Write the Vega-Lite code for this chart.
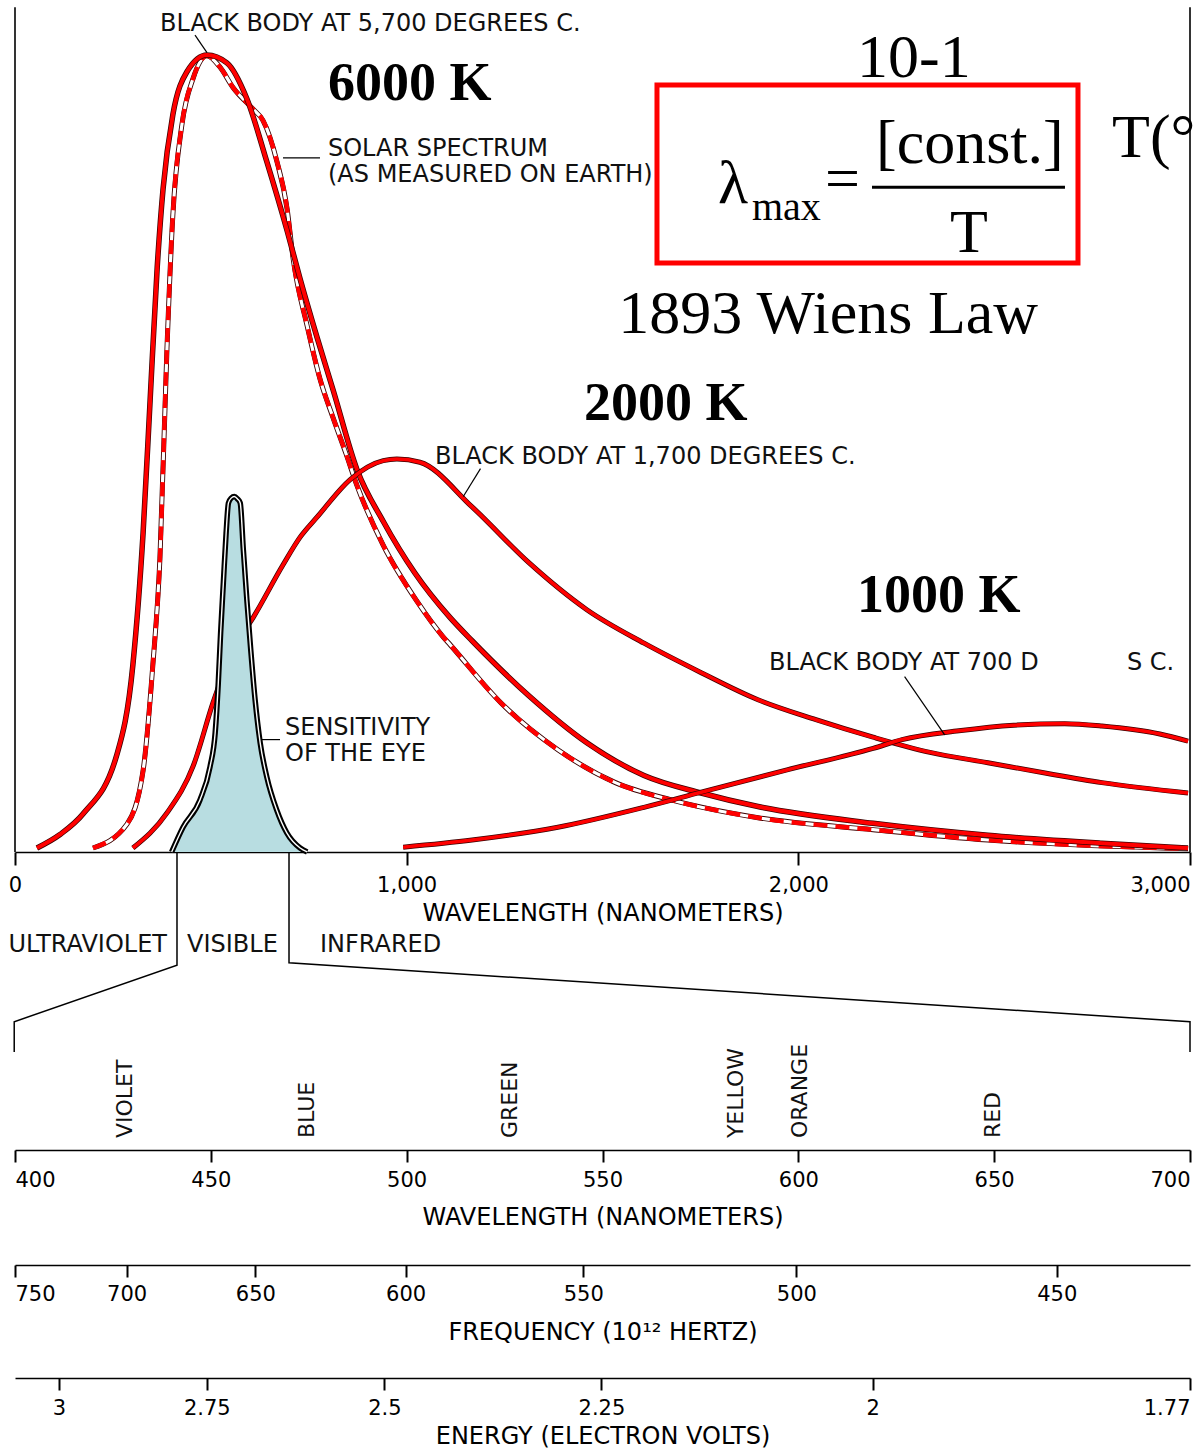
{
"$schema":"https://vega.github.io/schema/vega-lite/v6.json",
"width":1175,"height":1449,
"autosize":{"type":"none"},
"padding":{"left":15,"right":7,"top":0,"bottom":0},
"background":"#ffffff",
"config":{"view":{"stroke":null},
"axis":{"domainColor":"#000","domainWidth":1.6,"tickColor":"#000","tickWidth":2,"tickSize":13,"labelFont":"DejaVu Sans","labelFontSize":21,"labelColor":"#000","labelPadding":8,"titleFont":"DejaVu Sans","titleFontSize":24,"titleFontWeight":"normal","titleColor":"#000","titlePadding":4,"grid":false,"labelFlush":true,"labelOverlap":false}},
"datasets":{
"bb6000":[{"nm":56,"I":0.5},{"nm":115,"I":2.2},{"nm":174,"I":4.8},{"nm":260,"I":12.2},{"nm":301,"I":23.5},{"nm":327,"I":40},{"nm":345,"I":56.7},{"nm":363,"I":73.3},{"nm":378,"I":83.2},{"nm":403,"I":92.5},{"nm":439,"I":97.9},{"nm":490,"I":100},{"nm":541,"I":99},{"nm":592,"I":94.5},{"nm":643,"I":86.6},{"nm":695,"I":77.9},{"nm":728,"I":71.9},{"nm":771,"I":64.6},{"nm":812,"I":58},{"nm":873,"I":48},{"nm":940,"I":41.5},{"nm":1021,"I":35},{"nm":1111,"I":29.4},{"nm":1167,"I":26.5},{"nm":1312,"I":19.6},{"nm":1460,"I":13.7},{"nm":1606,"I":9.6},{"nm":1752,"I":7.4},{"nm":1897,"I":5.7},{"nm":2191,"I":3.6},{"nm":2484,"I":2.1},{"nm":2775,"I":1.1},{"nm":2995,"I":0.5}],
"solar":[{"nm":199,"I":0.5},{"nm":286,"I":3.5},{"nm":327,"I":10.2},{"nm":352,"I":23.5},{"nm":370,"I":36.8},{"nm":388,"I":63.2},{"nm":403,"I":79.9},{"nm":426,"I":91.2},{"nm":455,"I":97.1},{"nm":490,"I":99.9},{"nm":523,"I":98.5},{"nm":557,"I":95.9},{"nm":608,"I":93.2},{"nm":633,"I":91.8},{"nm":669,"I":86.6},{"nm":695,"I":80.6},{"nm":710,"I":74.5},{"nm":746,"I":66},{"nm":779,"I":59.3},{"nm":812,"I":54.5},{"nm":845,"I":50},{"nm":873,"I":46},{"nm":940,"I":38.5},{"nm":1027,"I":31.4},{"nm":1093,"I":27},{"nm":1111,"I":26},{"nm":1241,"I":18.7},{"nm":1387,"I":12.8},{"nm":1533,"I":8.7},{"nm":1678,"I":6.5},{"nm":1897,"I":4.3},{"nm":2191,"I":2.8},{"nm":2484,"I":1.5},{"nm":2995,"I":0.4}],
"bb2000":[{"nm":301,"I":0.5},{"nm":388,"I":4.9},{"nm":455,"I":10.8},{"nm":506,"I":18.8},{"nm":557,"I":25.5},{"nm":608,"I":29.4},{"nm":684,"I":36},{"nm":728,"I":39.5},{"nm":771,"I":42},{"nm":855,"I":46.7},{"nm":940,"I":49.1},{"nm":975,"I":49.3},{"nm":1034,"I":48.9},{"nm":1167,"I":43.3},{"nm":1312,"I":36.3},{"nm":1460,"I":30.4},{"nm":1606,"I":26.2},{"nm":1752,"I":22.5},{"nm":1897,"I":19.1},{"nm":2045,"I":16.6},{"nm":2191,"I":14.4},{"nm":2336,"I":12.5},{"nm":2484,"I":11.2},{"nm":2630,"I":9.9},{"nm":2775,"I":8.7},{"nm":2995,"I":7.4}],
"bb1000":[{"nm":991,"I":0.6},{"nm":1167,"I":1.5},{"nm":1386,"I":3.1},{"nm":1606,"I":5.6},{"nm":1752,"I":7.5},{"nm":1971,"I":10.3},{"nm":2191,"I":13},{"nm":2265,"I":14.1},{"nm":2410,"I":15.2},{"nm":2550,"I":15.9},{"nm":2680,"I":16.1},{"nm":2775,"I":15.8},{"nm":2923,"I":14.8},{"nm":2995,"I":13.9}],
"eye":[{"nm":400,"I":0},{"nm":429,"I":3.1},{"nm":472,"I":6.5},{"nm":498,"I":10.7},{"nm":511,"I":14.9},{"nm":519,"I":21.2},{"nm":525,"I":27.5},{"nm":532,"I":33.8},{"nm":539,"I":40},{"nm":545,"I":43.8},{"nm":552,"I":44.4},{"nm":560,"I":44.6},{"nm":568,"I":44.3},{"nm":575,"I":43.8},{"nm":583,"I":37.9},{"nm":592,"I":31.6},{"nm":602,"I":25.3},{"nm":613,"I":19.1},{"nm":626,"I":13.7},{"nm":643,"I":9.4},{"nm":668,"I":5.3},{"nm":694,"I":2.4},{"nm":728,"I":0.5},{"nm":746,"I":0}]
},
"resolve":{"scale":{"x":"independent"},"axis":{"x":"independent"}},
"layer":[
{"layer":[
 {"data":{"values":[{"nm":0},{"nm":3000}]},"mark":{"type":"rule","stroke":"#000","strokeWidth":1.6},
  "encoding":{"x":{"field":"nm","type":"quantitative","scale":{"domain":[0,3000],"nice":false,"zero":false},
   "axis":{"orient":"bottom","offset":-597,"values":[0,1000,2000,3000],"format":",d","title":"WAVELENGTH (NANOMETERS)","labelPadding":9,"labelFlush":false,"labelAlign":{"condition":{"test":"datum.value === 3000","value":"right"},"value":"center"},"titlePadding":6}},
   "y":{"datum":0,"type":"quantitative","scale":{"domain":[-74.91,106.9],"nice":false,"zero":false},"axis":null},"y2":{"datum":106}}},
 {"data":{"values":[{"side":"L","step":1,"nm":413.6,"I":0},{"side":"L","step":2,"nm":413.6,"I":-14.2},{"side":"L","step":3,"nm":-2,"I":-21.3},{"side":"L","step":4,"nm":-2,"I":-25.1},{"side":"R","step":1,"nm":699.6,"I":0},{"side":"R","step":2,"nm":699.6,"I":-13.9},{"side":"R","step":3,"nm":3000,"I":-21.3},{"side":"R","step":4,"nm":3000,"I":-25.1}]},
  "mark":{"type":"line","stroke":"#000","strokeWidth":1.5},
  "encoding":{"x":{"field":"nm","type":"quantitative","scale":{"domain":[0,3000],"nice":false,"zero":false}},"y":{"field":"I","type":"quantitative","scale":{"domain":[-74.91,106.9],"nice":false,"zero":false},"axis":null},"detail":{"field":"side"},"order":{"field":"step"}}},
 {"data":{"name":"solar"},"mark":{"type":"line","stroke":"#3a0000","strokeWidth":5,"interpolate":"monotone"},
  "encoding":{"x":{"field":"nm","type":"quantitative","scale":{"domain":[0,3000],"nice":false,"zero":false}},"y":{"field":"I","type":"quantitative","scale":{"domain":[-74.91,106.9],"nice":false,"zero":false},"axis":null}}},
 {"data":{"name":"solar"},"mark":{"type":"line","stroke":"#ffffff","strokeWidth":3.2,"interpolate":"monotone"},
  "encoding":{"x":{"field":"nm","type":"quantitative","scale":{"domain":[0,3000],"nice":false,"zero":false}},"y":{"field":"I","type":"quantitative","scale":{"domain":[-74.91,106.9],"nice":false,"zero":false},"axis":null}}},
 {"data":{"name":"solar"},"mark":{"type":"line","stroke":"#ff0000","strokeWidth":4.4,"strokeDash":[14,8],"interpolate":"monotone"},
  "encoding":{"x":{"field":"nm","type":"quantitative","scale":{"domain":[0,3000],"nice":false,"zero":false}},"y":{"field":"I","type":"quantitative","scale":{"domain":[-74.91,106.9],"nice":false,"zero":false},"axis":null}}},
 {"data":{"name":"bb6000"},"mark":{"type":"line","stroke":"#3a0000","strokeWidth":5.5,"interpolate":"monotone"},
  "encoding":{"x":{"field":"nm","type":"quantitative","scale":{"domain":[0,3000],"nice":false,"zero":false}},"y":{"field":"I","type":"quantitative","scale":{"domain":[-74.91,106.9],"nice":false,"zero":false},"axis":null}}},
 {"data":{"name":"bb6000"},"mark":{"type":"line","stroke":"#ff0000","strokeWidth":4,"interpolate":"monotone"},
  "encoding":{"x":{"field":"nm","type":"quantitative","scale":{"domain":[0,3000],"nice":false,"zero":false}},"y":{"field":"I","type":"quantitative","scale":{"domain":[-74.91,106.9],"nice":false,"zero":false},"axis":null}}},
 {"data":{"name":"bb2000"},"mark":{"type":"line","stroke":"#3a0000","strokeWidth":5,"interpolate":"monotone"},
  "encoding":{"x":{"field":"nm","type":"quantitative","scale":{"domain":[0,3000],"nice":false,"zero":false}},"y":{"field":"I","type":"quantitative","scale":{"domain":[-74.91,106.9],"nice":false,"zero":false},"axis":null}}},
 {"data":{"name":"bb2000"},"mark":{"type":"line","stroke":"#ff0000","strokeWidth":3.6,"interpolate":"monotone"},
  "encoding":{"x":{"field":"nm","type":"quantitative","scale":{"domain":[0,3000],"nice":false,"zero":false}},"y":{"field":"I","type":"quantitative","scale":{"domain":[-74.91,106.9],"nice":false,"zero":false},"axis":null}}},
 {"data":{"name":"bb1000"},"mark":{"type":"line","stroke":"#3a0000","strokeWidth":5,"interpolate":"monotone"},
  "encoding":{"x":{"field":"nm","type":"quantitative","scale":{"domain":[0,3000],"nice":false,"zero":false}},"y":{"field":"I","type":"quantitative","scale":{"domain":[-74.91,106.9],"nice":false,"zero":false},"axis":null}}},
 {"data":{"name":"bb1000"},"mark":{"type":"line","stroke":"#ff0000","strokeWidth":3.6,"interpolate":"monotone"},
  "encoding":{"x":{"field":"nm","type":"quantitative","scale":{"domain":[0,3000],"nice":false,"zero":false}},"y":{"field":"I","type":"quantitative","scale":{"domain":[-74.91,106.9],"nice":false,"zero":false},"axis":null}}},
 {"data":{"name":"eye"},"mark":{"type":"area","fill":"#b8dde1","interpolate":"monotone"},
  "encoding":{"x":{"field":"nm","type":"quantitative","scale":{"domain":[0,3000],"nice":false,"zero":false}},"y":{"field":"I","type":"quantitative","scale":{"domain":[-74.91,106.9],"nice":false,"zero":false},"axis":null},"y2":{"datum":0}}},
 {"data":{"name":"eye"},"mark":{"type":"line","stroke":"#000","strokeWidth":5.5,"interpolate":"monotone"},
  "encoding":{"x":{"field":"nm","type":"quantitative","scale":{"domain":[0,3000],"nice":false,"zero":false}},"y":{"field":"I","type":"quantitative","scale":{"domain":[-74.91,106.9],"nice":false,"zero":false},"axis":null}}},
 {"data":{"name":"eye"},"mark":{"type":"line","stroke":"#ffffff","strokeWidth":1.4,"interpolate":"monotone"},
  "encoding":{"x":{"field":"nm","type":"quantitative","scale":{"domain":[0,3000],"nice":false,"zero":false}},"y":{"field":"I","type":"quantitative","scale":{"domain":[-74.91,106.9],"nice":false,"zero":false},"axis":null}}},
 {"data":{"values":[{"nm":459.6,"I":102.5,"nm2":490.2,"I2":100.3},{"nm":684.3,"I":87.1,"nm2":778.7,"I2":87.1},{"nm":1188.5,"I":48.1,"nm2":1144.6,"I2":44.6},{"nm":2271.3,"I":22.0,"nm2":2373.7,"I2":14.7},{"nm":629.9,"I":14.1,"nm2":676.6,"I2":14.1}]},
  "mark":{"type":"rule","stroke":"#000","strokeWidth":1.2},
  "encoding":{"x":{"field":"nm","type":"quantitative","scale":{"domain":[0,3000],"nice":false,"zero":false}},"x2":{"field":"nm2"},"y":{"field":"I","type":"quantitative","scale":{"domain":[-74.91,106.9],"nice":false,"zero":false},"axis":null},"y2":{"field":"I2"}}},
 {"data":{"values":[{"nm":1639.1,"nm2":2714,"I":73.9,"I2":96.24}]},
  "mark":{"type":"rect","fill":"#ffffff","fillOpacity":0,"stroke":"#ff0000","strokeWidth":5},
  "encoding":{"x":{"field":"nm","type":"quantitative","scale":{"domain":[0,3000],"nice":false,"zero":false}},"x2":{"field":"nm2"},"y":{"field":"I","type":"quantitative","scale":{"domain":[-74.91,106.9],"nice":false,"zero":false},"axis":null},"y2":{"field":"I2"}}},
 {"data":{"values":[{"nm":2188.1,"nm2":2680.8,"I":83.4}]},
  "mark":{"type":"rule","stroke":"#000","strokeWidth":3},
  "encoding":{"x":{"field":"nm","type":"quantitative","scale":{"domain":[0,3000],"nice":false,"zero":false}},"x2":{"field":"nm2"},"y":{"field":"I","type":"quantitative","scale":{"domain":[-74.91,106.9],"nice":false,"zero":false},"axis":null}}},
 {"data":{"values":[{"t":"BLACK BODY AT 5,700 DEGREES C.","nm":370.2,"I":103.0},{"t":"SOLAR SPECTRUM","nm":799.1,"I":87.3},{"t":"(AS MEASURED ON EARTH)","nm":799.1,"I":84.1},{"t":"BLACK BODY AT 1,700 DEGREES C.","nm":1072.3,"I":48.7},{"t":"BLACK BODY AT 700 D","nm":1925.1,"I":22.8},{"t":"S C.","nm":2839.1,"I":22.8},{"t":"SENSITIVITY","nm":689.4,"I":14.7},{"t":"OF THE EYE","nm":689.4,"I":11.4},{"t":"VISIBLE","nm":439.1,"I":-12.55},{"t":"INFRARED","nm":778.7,"I":-12.55}]},
  "mark":{"type":"text","font":"DejaVu Sans","fontSize":24,"align":"left","baseline":"alphabetic","color":"#111"},
  "encoding":{"x":{"field":"nm","type":"quantitative","scale":{"domain":[0,3000],"nice":false,"zero":false}},"y":{"field":"I","type":"quantitative","scale":{"domain":[-74.91,106.9],"nice":false,"zero":false},"axis":null},"text":{"field":"t"}}},
 {"data":{"values":[{"t":"ULTRAVIOLET","nm":388.1,"I":-12.55}]},
  "mark":{"type":"text","font":"DejaVu Sans","fontSize":24,"align":"right","baseline":"alphabetic","color":"#111"},
  "encoding":{"x":{"field":"nm","type":"quantitative","scale":{"domain":[0,3000],"nice":false,"zero":false}},"y":{"field":"I","type":"quantitative","scale":{"domain":[-74.91,106.9],"nice":false,"zero":false},"axis":null},"text":{"field":"t"}}},
 {"data":{"values":[{"t":"6000 K","nm":799.1,"I":94.35},{"t":"2000 K","nm":1452.8,"I":54.2},{"t":"1000 K","nm":2149.8,"I":30.1}]},
  "mark":{"type":"text","font":"Liberation Serif","fontSize":54,"fontWeight":"bold","align":"left","baseline":"alphabetic","color":"#000"},
  "encoding":{"x":{"field":"nm","type":"quantitative","scale":{"domain":[0,3000],"nice":false,"zero":false}},"y":{"field":"I","type":"quantitative","scale":{"domain":[-74.91,106.9],"nice":false,"zero":false},"axis":null},"text":{"field":"t"}}},
 {"data":{"values":[{"t":"10-1","nm":2150,"I":97.2},{"t":"[const.]","nm":2198.3,"I":86.4},{"t":"T(°","nm":2800.9,"I":87.2},{"t":"1893 Wiens Law","nm":1540,"I":65.1},{"t":"λ","nm":1794.9,"I":81.4},{"t":"=","nm":2068.1,"I":81.9},{"t":"T","nm":2387.2,"I":75.3}]},
  "mark":{"type":"text","font":"Liberation Serif","fontSize":62,"align":"left","baseline":"alphabetic","color":"#000"},
  "encoding":{"x":{"field":"nm","type":"quantitative","scale":{"domain":[0,3000],"nice":false,"zero":false}},"y":{"field":"I","type":"quantitative","scale":{"domain":[-74.91,106.9],"nice":false,"zero":false},"axis":null},"text":{"field":"t"}}},
 {"data":{"values":[{"t":"max","nm":1881.7,"I":79.3}]},
  "mark":{"type":"text","font":"Liberation Serif","fontSize":40,"align":"left","baseline":"alphabetic","color":"#000"},
  "encoding":{"x":{"field":"nm","type":"quantitative","scale":{"domain":[0,3000],"nice":false,"zero":false}},"y":{"field":"I","type":"quantitative","scale":{"domain":[-74.91,106.9],"nice":false,"zero":false},"axis":null},"text":{"field":"t"}}}
]},
{"layer":[
 {"data":{"values":[{"name":"VIOLET","vnm":428},{"name":"BLUE","vnm":474.6},{"name":"GREEN","vnm":526.4},{"name":"YELLOW","vnm":584.2},{"name":"ORANGE","vnm":600.4},{"name":"RED","vnm":649.8}]},
  "mark":{"type":"text","font":"DejaVu Sans","fontSize":22,"angle":270,"align":"left","baseline":"middle","color":"#111"},
  "encoding":{"x":{"field":"vnm","type":"quantitative","scale":{"domain":[400,700],"nice":false,"zero":false},
   "axis":{"orient":"bottom","offset":-299,"values":[400,450,500,550,600,650,700],"format":"d","title":"WAVELENGTH (NANOMETERS)","tickSize":12,"labelPadding":7,"titlePadding":15}},
   "y":{"datum":-35.9,"type":"quantitative","scale":{"domain":[-74.91,106.9],"nice":false,"zero":false},"axis":null},"text":{"field":"name"}}}
]},
{"layer":[
 {"data":{"values":[{"thz":750},{"thz":450}]},"mark":{"type":"point","opacity":0},
  "encoding":{"x":{"field":"thz","type":"quantitative","scale":{"type":"pow","exponent":-1,"domain":[750,428.1],"nice":false,"zero":false},
   "axis":{"orient":"bottom","offset":-184,"values":[750,700,650,600,550,500,450],"format":".3~g","title":"FREQUENCY (10¹² HERTZ)","tickSize":12,"labelPadding":6,"titlePadding":16}},
   "y":{"datum":-60,"type":"quantitative","scale":{"domain":[-74.91,106.9],"nice":false,"zero":false},"axis":null}}}
]},
{"layer":[
 {"data":{"values":[{"ev":3},{"ev":1.77}]},"mark":{"type":"point","opacity":0},
  "encoding":{"x":{"field":"ev","type":"quantitative","scale":{"type":"pow","exponent":-1,"domain":[3.083,1.77],"nice":false,"zero":false},
   "axis":{"orient":"bottom","offset":-71,"values":[3,2.75,2.5,2.25,2,1.77],"format":".3~g","title":"ENERGY (ELECTRON VOLTS)","tickSize":12,"labelPadding":7,"titlePadding":6}},
   "y":{"datum":-70,"type":"quantitative","scale":{"domain":[-74.91,106.9],"nice":false,"zero":false},"axis":null}}}
]}
]
}
